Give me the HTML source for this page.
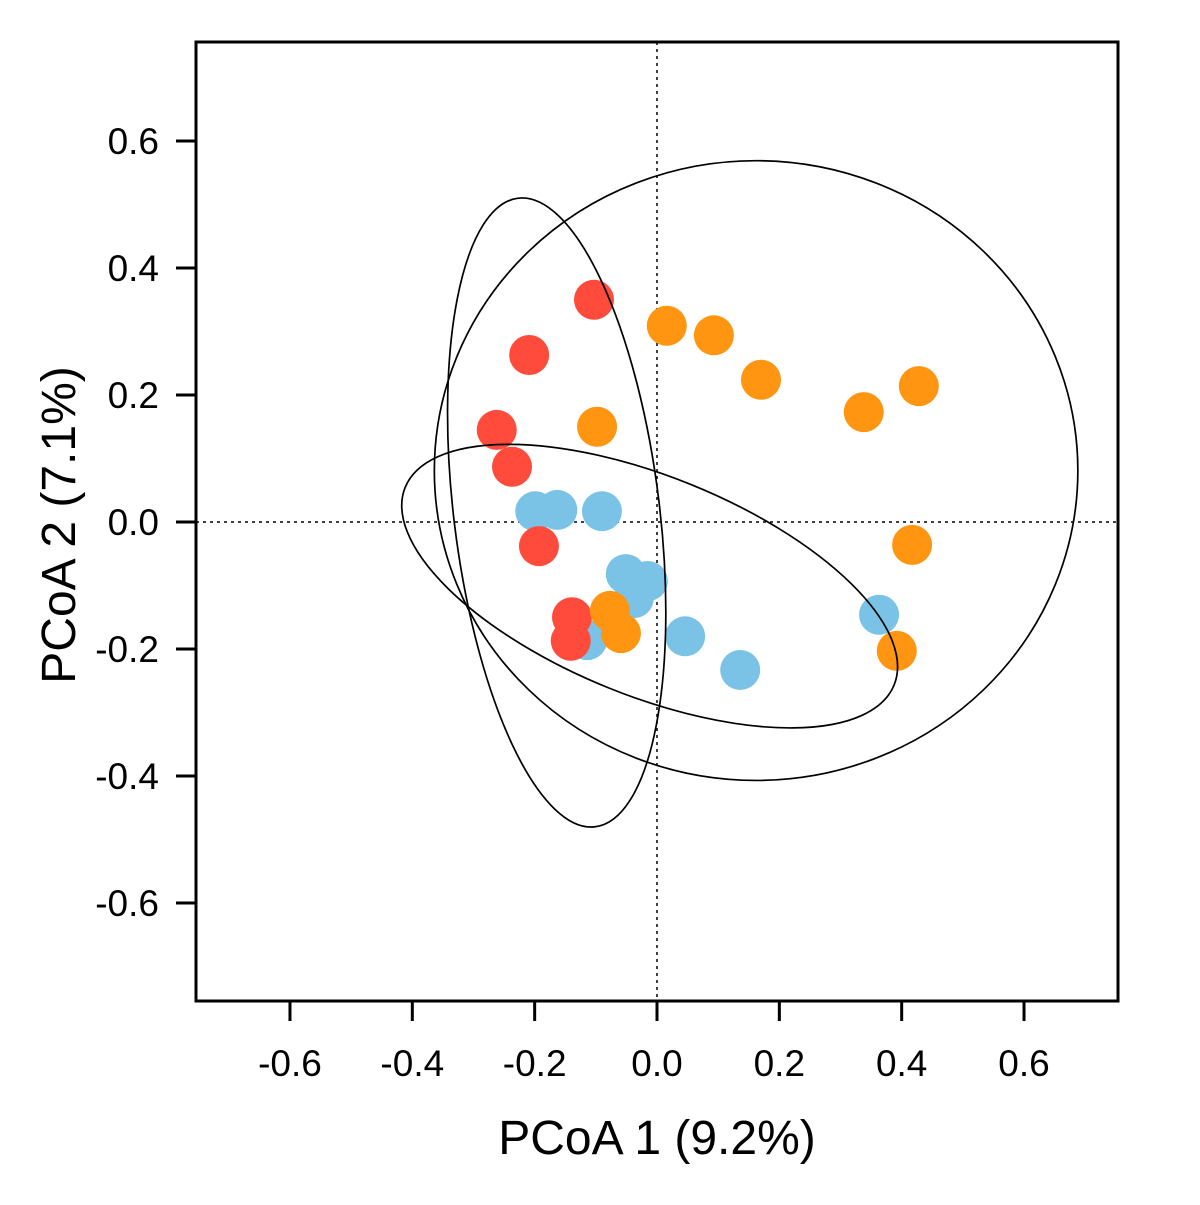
<!DOCTYPE html>
<html><head><meta charset="utf-8"><style>
html,body{margin:0;padding:0;background:#fff;}
svg text{font-family:"Liberation Sans",Arial,sans-serif;fill:#000;}
</style></head><body>
<svg id="chart" width="1200" height="1200" viewBox="0 0 1200 1200" xmlns="http://www.w3.org/2000/svg">
<g id="layer"></g>
</svg>
<script>
const xTicks=[-0.6,-0.4,-0.2,0.0,0.2,0.4,0.6];
const yTicks=[-0.6,-0.4,-0.2,0.0,0.2,0.4,0.6];
const redX=[-0.103,-0.209,-0.262,-0.237,-0.193,-0.139,-0.141];
const redY=[0.350,0.263,0.145,0.087,-0.038,-0.150,-0.187];
const blueX=[-0.199,-0.163,-0.090,-0.051,-0.015,-0.038,0.046,0.136,0.363,-0.114];
const blueY=[0.017,0.019,0.017,-0.082,-0.093,-0.120,-0.180,-0.233,-0.146,-0.186];
const orangeX=[0.016,0.093,0.170,0.338,0.428,-0.098,0.417,-0.077,-0.059,0.392];
const orangeY=[0.309,0.294,0.224,0.173,0.214,0.150,-0.036,-0.140,-0.175,-0.203];
// ellipses: centerX, centerY, semiX, semiY (data units), rotation deg
const ellRed=[-0.164,0.015,0.508,0.165,83];
const ellBlue=[-0.012,-0.101,0.423,0.176,22];
const ellOrange=[0.162,0.081,0.526,0.488,0];

const X0=657,XS=611.7,Y0=522,YS=635;
const sx=v=>X0+v*XS, sy=v=>Y0-v*YS;
const NS="http://www.w3.org/2000/svg";
const g=document.getElementById('layer');
function mk(t,a){const e=document.createElementNS(NS,t);for(const k in a)e.setAttribute(k,a[k]);g.appendChild(e);return e;}

let e;
e=mk('line',{x1:sx(0),x2:sx(0),y1:42,y2:1001,stroke:'#000','stroke-width':1.5,'stroke-dasharray':'3,4'});


e=mk('line',{x1:196,x2:1118,y1:sy(0),y2:sy(0),stroke:'#000','stroke-width':1.5,'stroke-dasharray':'3,4'});



function drawPts(xs,ys,col,name){
  for(let i=0;i<xs.length;i++){
    const c=mk('circle',{cx:sx(xs[i]),cy:sy(ys[i]),r:20,fill:col});
    
    
  }
}
drawPts(blueX,blueY,'#7bc3e6','blue');
drawPts(redX,redY,'#ff4b3c','red');
drawPts(orangeX,orangeY,'#ff9510','orange');

function drawEll(p,name){
  const cx=sx(p[0]),cy=sy(p[1]);
  let rx,ry;
  if(p[4]===0){rx=p[2]*XS;ry=p[3]*YS;}else{rx=p[2]*(XS+YS)/2;ry=p[3]*(XS+YS)/2;}
  const el=mk('ellipse',{cx:cx,cy:cy,rx:rx,ry:ry,fill:'none',stroke:'#000','stroke-width':1.7,transform:`rotate(${p[4]} ${cx} ${cy})`});
  
  
}
drawEll(ellRed,'red-ellipse');
drawEll(ellBlue,'blue-ellipse');
drawEll(ellOrange,'orange-ellipse');

e=mk('rect',{x:196,y:42,width:922,height:959,fill:'none',stroke:'#000','stroke-width':3});



xTicks.forEach(v=>{
  const t=mk('line',{x1:sx(v),x2:sx(v),y1:1001,y2:1021,stroke:'#000','stroke-width':3});
  
  
  const l=mk('text',{x:sx(v),y:1076,'font-size':37,'text-anchor':'middle'});
  l.textContent=v.toFixed(1);
  
  
});
yTicks.forEach(v=>{
  const t=mk('line',{x1:176,x2:196,y1:sy(v),y2:sy(v),stroke:'#000','stroke-width':3});
  
  
  const l=mk('text',{x:159,y:sy(v)+13,'font-size':37,'text-anchor':'end'});
  l.textContent=v.toFixed(1);
  
  
});
e=mk('text',{x:657,y:1154,'font-size':48,'text-anchor':'middle'});
e.textContent='PCoA 1 (9.2%)';


e=mk('text',{x:0,y:0,'font-size':48,'text-anchor':'middle',transform:'translate(75,525) rotate(-90)'});
e.textContent='PCoA 2 (7.1%)';


</script>
</body></html>
